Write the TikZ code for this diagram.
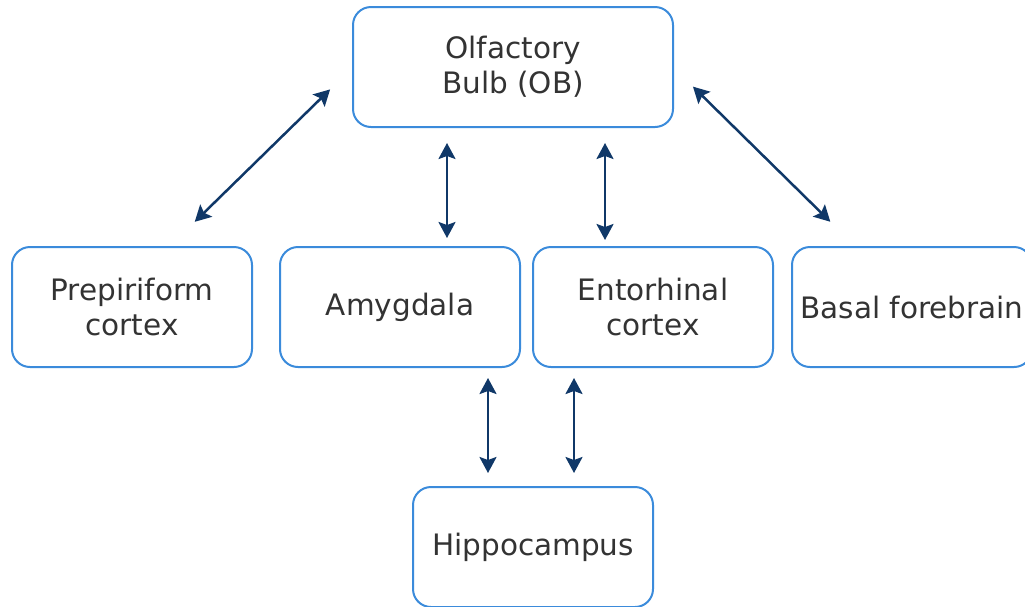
\documentclass[tikz,border=0pt]{standalone}
\usepackage{fontspec}
\setmainfont{DejaVu Sans}
\usepackage{xcolor}
\definecolor{cblue}{RGB}{59,139,219}
\definecolor{cnavy}{RGB}{16,56,104}
\definecolor{ctext}{RGB}{51,51,51}
\usepackage{tikz}
\usetikzlibrary{positioning, arrows.meta}
\tikzset{
Box/.style={
	draw=cblue,
	line width=2pt,
	outer sep=0pt,
	rounded corners=18pt,
	minimum width=240pt,
	minimum height=120pt,
	align=center,
	text=ctext,
	font=\fontsize{29.5}{35}\selectfont
},
WideBox/.style={
	Box,
	minimum width=320pt
},
Link/.style={
	draw=cnavy,
	line width=2.5pt,
	{Stealth[length=16pt,width=17pt,inset=3pt]}-{Stealth[length=16pt,width=17pt,inset=3pt]}
}
}

\begin{document}
\begin{tikzpicture}[x=1pt, y=-1pt]
	\useasboundingbox (0,0) rectangle (1025,606);
	\node[WideBox] (OB) at (513,67) {Olfactory\\Bulb (OB)};
	\node[Box, below=120pt of OB, xshift=-113pt] (amyg) {Amygdala};
	\node[Box, right=13pt of amyg] (ento) {Entorhinal\\cortex};
	\node[Box, left=28pt of amyg] (prep) {Prepiriform\\cortex};
	\node[Box, right=19pt of ento] (basal) {Basal forebrain};
	\node[Box, below=120pt of amyg, xshift=133pt] (hippo) {Hippocampus};

	\draw[Link, shorten <=32pt, shorten >=36pt] (OB.west) -- ([xshift=37pt]prep.north);
	\draw[Link, shorten <=28pt, shorten >=36pt] (OB.east) -- ([xshift=-56pt]basal.north);
	\draw[Link, shorten <=16pt, shorten >=9pt] ([xshift=-66pt]OB.south) -- ([xshift=47pt]amyg.north);
	\draw[Link, shorten <=16pt, shorten >=7pt] ([xshift=92pt]OB.south) -- ([xshift=-48pt]ento.north);
	\draw[Link, shorten <=11pt, shorten >=14pt] ([xshift=88pt]amyg.south) -- ([xshift=-45pt]hippo.north);
	\draw[Link, shorten <=11pt, shorten >=14pt] ([xshift=-79pt]ento.south) -- ([xshift=41pt]hippo.north);
\end{tikzpicture}
\end{document}
